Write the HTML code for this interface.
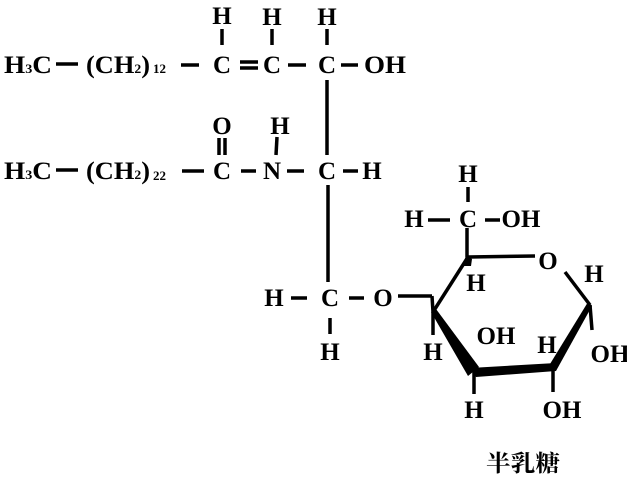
<!DOCTYPE html>
<html><head><meta charset="utf-8"><style>
html,body{margin:0;padding:0;background:#fff;width:627px;height:477px;overflow:hidden}
svg{display:block}
text{font-family:"Liberation Serif","Noto Serif CJK SC",serif;font-weight:bold;fill:#000;font-size:25px}
.s{font-size:13px}
</style></head><body>
<svg width="627" height="477" viewBox="0 0 627 477">
<g stroke="#000" stroke-width="3.5" fill="none">
<line x1="56" y1="64" x2="78" y2="64"/>
<line x1="181" y1="65" x2="199" y2="65"/>
<line x1="240" y1="62" x2="258" y2="62"/><line x1="240" y1="68" x2="258" y2="68"/>
<line x1="288" y1="65" x2="306" y2="65"/>
<line x1="341" y1="65" x2="358" y2="65"/>
<line x1="222" y1="29" x2="222" y2="45"/>
<line x1="272" y1="29" x2="272" y2="45"/>
<line x1="327" y1="29" x2="327" y2="45"/>
<line x1="327" y1="80" x2="327" y2="155"/>
<line x1="56" y1="170" x2="78" y2="170"/>
<line x1="182" y1="171" x2="204" y2="171"/>
<line x1="219" y1="138" x2="219" y2="155"/><line x1="225" y1="138" x2="225" y2="155"/>
<line x1="241" y1="171" x2="256" y2="171"/>
<line x1="287" y1="171" x2="304" y2="171"/>
<line x1="343" y1="171" x2="358" y2="171"/>
<line x1="277" y1="137" x2="276" y2="155"/>
<line x1="328" y1="185" x2="328" y2="282"/>
<line x1="291" y1="298" x2="307" y2="298"/>
<line x1="349" y1="298" x2="364" y2="298"/>
<line x1="330" y1="318" x2="330" y2="334"/>
<line x1="398" y1="296" x2="432" y2="296"/><line x1="432" y1="296" x2="433" y2="312"/>
<line x1="433" y1="312" x2="468" y2="257"/>
<line x1="468" y1="257" x2="535" y2="256"/>
<line x1="565" y1="272" x2="590" y2="305"/>
<line x1="467" y1="228" x2="467" y2="257"/>
<line x1="468" y1="187" x2="468" y2="202"/>
<line x1="428" y1="220" x2="450" y2="220"/>
<line x1="485" y1="220" x2="500" y2="220"/>
<line x1="433" y1="312" x2="433" y2="335"/>
<line x1="474" y1="372" x2="474" y2="394"/>
<line x1="553" y1="367" x2="553" y2="392"/>
<line x1="590" y1="305" x2="592" y2="330"/>
</g>
<g fill="#000">
<polygon points="431,312 436,309 479,367 468,376"/>
<polygon points="470,368 556,363 556,371 476,377"/>
<polygon points="588,302 592,306 556,371 550,364"/>
<polygon points="466,255 472,259 471,266 463,266"/>
</g>
<text x="4" y="73" textLength="48" lengthAdjust="spacingAndGlyphs">H<tspan class="s">3</tspan>C</text>
<text x="86" y="73" textLength="64" lengthAdjust="spacingAndGlyphs">(CH<tspan class="s">2</tspan>)</text>
<text x="153" y="73" class="s">12</text>
<text x="222" y="73" text-anchor="middle">C</text>
<text x="272" y="73" text-anchor="middle">C</text>
<text x="327" y="73" text-anchor="middle">C</text>
<text x="364" y="73" textLength="42" lengthAdjust="spacingAndGlyphs">OH</text>
<text x="222" y="24" text-anchor="middle">H</text>
<text x="272" y="25" text-anchor="middle">H</text>
<text x="327" y="25" text-anchor="middle">H</text>
<text x="4" y="179" textLength="48" lengthAdjust="spacingAndGlyphs">H<tspan class="s">3</tspan>C</text>
<text x="86" y="179" textLength="64" lengthAdjust="spacingAndGlyphs">(CH<tspan class="s">2</tspan>)</text>
<text x="153" y="180" class="s">22</text>
<text x="222" y="134" text-anchor="middle">O</text>
<text x="222" y="179" text-anchor="middle">C</text>
<text x="272" y="179" text-anchor="middle">N</text>
<text x="280" y="134" text-anchor="middle">H</text>
<text x="327" y="179" text-anchor="middle">C</text>
<text x="372" y="179" text-anchor="middle">H</text>
<text x="274" y="306" text-anchor="middle">H</text>
<text x="330" y="306" text-anchor="middle">C</text>
<text x="383" y="306" text-anchor="middle">O</text>
<text x="330" y="360" text-anchor="middle">H</text>
<text x="468" y="182" text-anchor="middle">H</text>
<text x="414" y="227" text-anchor="middle">H</text>
<text x="468" y="227" text-anchor="middle">C</text>
<text x="521" y="227" text-anchor="middle">OH</text>
<text x="548" y="269" text-anchor="middle">O</text>
<text x="476" y="291" text-anchor="middle">H</text>
<text x="594" y="282" text-anchor="middle">H</text>
<text x="433" y="360" text-anchor="middle">H</text>
<text x="496" y="344" text-anchor="middle">OH</text>
<text x="547" y="353" text-anchor="middle">H</text>
<text x="610" y="362" text-anchor="middle">OH</text>
<text x="474" y="418" text-anchor="middle">H</text>
<text x="562" y="418" text-anchor="middle">OH</text>
<text x="486" y="471" style="font-size:23px" textLength="74" lengthAdjust="spacingAndGlyphs">半乳糖</text>
</svg>
</body></html>
